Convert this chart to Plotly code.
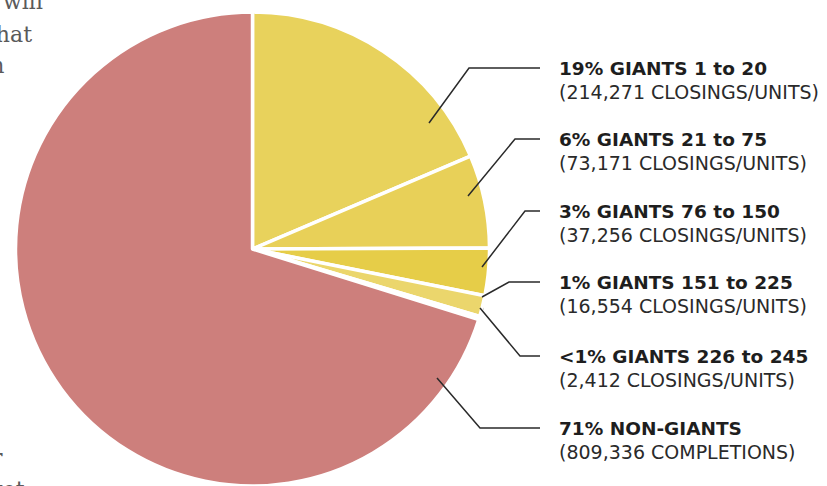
import plotly.graph_objects as go

# ---- data ----
segments = ["GIANTS 1 to 20", "GIANTS 21 to 75", "GIANTS 76 to 150",
            "GIANTS 151 to 225", "GIANTS 226 to 245", "NON-GIANTS"]
counts = [214271, 73171, 37256, 16554, 2412, 809336]
pct_labels = ["19%", "6%", "3%", "1%", "<1%", "71%"]
count_units = ["CLOSINGS/UNITS"] * 5 + ["COMPLETIONS"]
colors = ["#E8D25C", "#E8D058", "#E6CD48", "#EBD66C", "#E6CE50", "#CD7F7C"]

# leader-line layout (pixel space): dot, elbow
dots = [(429, 123), (468, 196), (482, 267), (482, 297), (480, 308), (437, 378)]
elbows = [(469, 68), (515, 139), (525, 211), (509, 282), (520, 356), (480, 428)]
line_end_x = 540
label_x = 557

W, H = 827, 486
cx, cy, r = 252.5, 249, 237

fig = go.Figure()
fig.add_trace(go.Pie(
    labels=segments, values=counts, sort=False, direction="clockwise",
    rotation=0, textinfo="none", hoverinfo="label+value+percent",
    marker=dict(colors=colors, line=dict(color="white", width=3.5)),
    domain=dict(x=[(cx - r) / W, (cx + r) / W], y=[(H - cy - r) / H, (H - cy + r) / H]),
    showlegend=False,
))

fig.add_trace(go.Scatter(
    x=[d[0] for d in dots], y=[d[1] for d in dots], mode="markers",
    marker=dict(color="#1e1e1e", size=7), hoverinfo="skip", showlegend=False))

shapes = []
annotations = []
for i, (d, e) in enumerate(zip(dots, elbows)):
    shapes.append(dict(type="path", xref="x", yref="y",
                       path=f"M {d[0]},{d[1]} L {e[0]},{e[1]} L {line_end_x},{e[1]}",
                       line=dict(color="#2a2a2a", width=1.5)))
    annotations.append(dict(x=label_x, y=e[1], xref="x", yref="y", xanchor="left",
                            yanchor="middle", showarrow=False,
                            text=f"<b>{pct_labels[i]} {segments[i]}</b>",
                            font=dict(family="DejaVu Sans", size=18.5, color="#1e1e1e")))
    annotations.append(dict(x=label_x, y=e[1] + 24, xref="x", yref="y", xanchor="left",
                            yanchor="middle", showarrow=False,
                            text=f"({counts[i]:,} {count_units[i]})",
                            font=dict(family="DejaVu Sans", size=19, color="#2a2a2a")))

# clipped body-text fragments from the page (right edge x, baseline-ish y)
body_fragments = [("will", 45, 1), ("that", 34, 34), ("on", 6, 66), ("r", 5, 457), ("market", 27, 489)]
for t, x, y in body_fragments:
    annotations.append(dict(x=x / W, y=1 - y / H, xref="paper", yref="paper",
                            xanchor="right", yanchor="middle",
                            showarrow=False, text=t,
                            font=dict(family="DejaVu Serif", size=22, color="#5a5a5a")))

fig.update_layout(
    width=W, height=H, margin=dict(l=0, r=0, t=0, b=0),
    paper_bgcolor="white", plot_bgcolor="rgba(0,0,0,0)",
    xaxis=dict(range=[0, W], visible=False, fixedrange=True),
    yaxis=dict(range=[H, 0], visible=False, fixedrange=True),
    shapes=shapes, annotations=annotations,
)
fig.write_html("out.html", config={"displayModeBar": False},
               post_script="document.body.style.margin='0';document.body.style.overflow='hidden';")
